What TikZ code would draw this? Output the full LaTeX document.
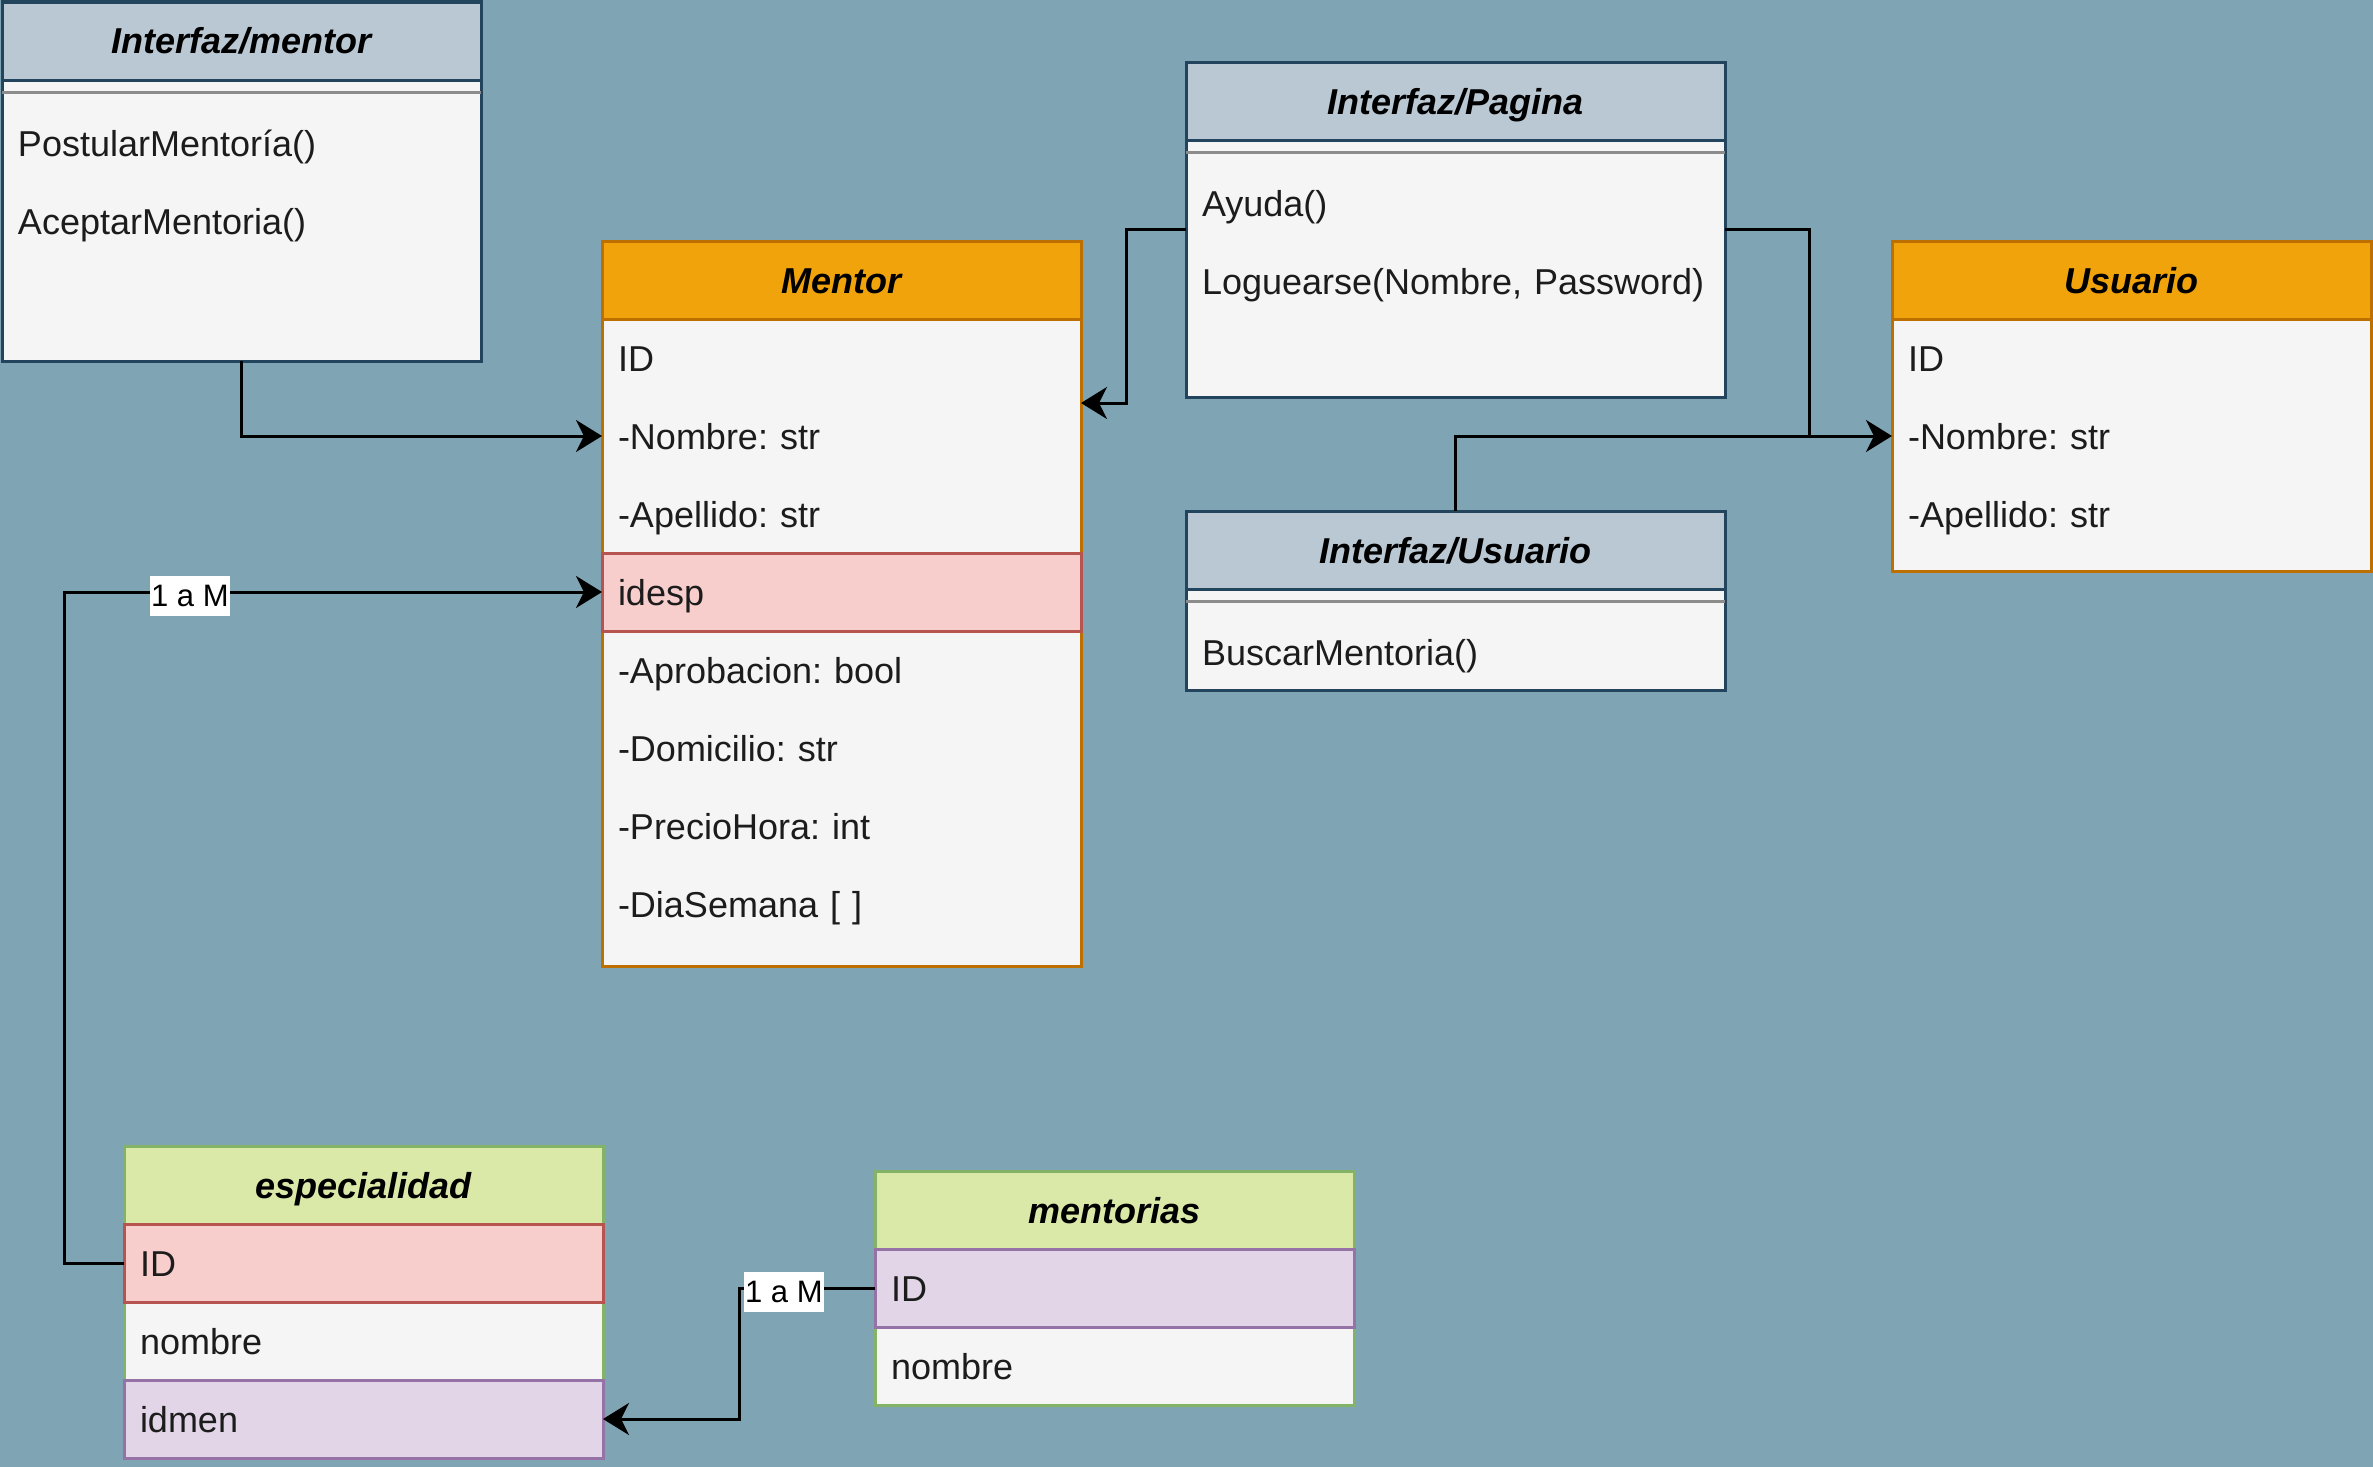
\documentclass[tikz,border=0pt]{standalone}
\usepackage{fontspec}
\setmainfont{Liberation Sans}
\usetikzlibrary{positioning,calc,arrows.meta}
\frenchspacing

\definecolor{bgblue}{HTML}{7FA4B3}
\definecolor{ifhead}{HTML}{BAC8D3}
\definecolor{ifline}{HTML}{23445D}
\definecolor{bodygray}{HTML}{F5F5F5}
\definecolor{sepgray}{HTML}{8C8C8C}
\definecolor{orhead}{HTML}{F0A30A}
\definecolor{orline}{HTML}{BD7000}
\definecolor{keyred}{HTML}{F8CECC}
\definecolor{keyredline}{HTML}{B85450}
\definecolor{grhead}{HTML}{DAE8A8}
\definecolor{grline}{HTML}{82B366}
\definecolor{keypur}{HTML}{E1D5E7}
\definecolor{keypurline}{HTML}{9673A6}
\definecolor{txtgray}{HTML}{1C1C1C}

\begin{document}
\begin{tikzpicture}[
    x=0.5pt, y=-0.5pt,
    box/.style={draw=#1, fill=bodygray, line width=1.5pt, outer sep=0pt, inner sep=0pt, anchor=north west},
    hdr/.style={minimum width=#1, minimum height=39pt, line width=1.5pt, outer sep=0pt, inner sep=0pt,
      text height=17pt, text depth=4pt, anchor=north, font=\fontsize{18}{22}\selectfont\bfseries\itshape},
    row_txt/.style={text width=#1, align=left, inner xsep=8pt, inner ysep=0pt, minimum height=39pt,
      text height=17pt, text depth=4pt, outer sep=0pt, text=txtgray, font=\fontsize{18}{22}\selectfont},
    row_red/.style={fill=keyred, draw=keyredline, line width=1.5pt},
    row_pur/.style={fill=keypur, draw=keypurline, line width=1.5pt},
    sep_line/.style={draw=sepgray, line width=1.5pt},
    conn/.style={draw=black, line width=1.5pt, -{Stealth[length=13pt, width=16pt, inset=4pt]}},
    lbl/.style={fill=white, inner xsep=0.75pt, inner ysep=0pt, minimum height=20pt, yshift=-2pt,
      font=\fontsize{15.5}{19}\selectfont}
  ]
  \useasboundingbox (0,0) rectangle (2373,1467);
  \fill[bgblue] (0,0) rectangle (2373,1467);

  % interfaces
  \node[box=ifline, minimum width=239.5pt, minimum height=179.5pt] (ment) at (2,2) {};
  \node[hdr=239.5pt, fill=ifhead, draw=ifline] (ment_hdr) at (ment.north) {Interfaz/mentor};
  \draw[sep_line] ($(ment_hdr.south west)+(0,12)$) -- ($(ment_hdr.south east)+(0,12)$);
  \node[row_txt=223.5pt, anchor=north west] (ment_m1) at ($(ment_hdr.south west)+(0,24)$) {PostularMentoría()};
  \node[row_txt=223.5pt, below=0pt of ment_m1] (ment_m2) {AceptarMentoria()};

  \node[box=ifline, minimum width=269.5pt, minimum height=167.5pt] (pag) at (1186,62) {};
  \node[hdr=269.5pt, fill=ifhead, draw=ifline] (pag_hdr) at (pag.north) {Interfaz/Pagina};
  \draw[sep_line] ($(pag_hdr.south west)+(0,12)$) -- ($(pag_hdr.south east)+(0,12)$);
  \node[row_txt=253.5pt, anchor=north west] (pag_m1) at ($(pag_hdr.south west)+(0,24)$) {Ayuda()};
  \node[row_txt=253.5pt, below=0pt of pag_m1] (pag_m2) {Loguearse(Nombre, Password)};

  \node[box=ifline, minimum width=269.5pt, minimum height=89.5pt] (ifusu) at (1186,511) {};
  \node[hdr=269.5pt, fill=ifhead, draw=ifline] (ifusu_hdr) at (ifusu.north) {Interfaz/Usuario};
  \draw[sep_line] ($(ifusu_hdr.south west)+(0,12)$) -- ($(ifusu_hdr.south east)+(0,12)$);
  \node[row_txt=253.5pt, anchor=north west] (ifusu_m1) at ($(ifusu_hdr.south west)+(0,24)$) {BuscarMentoria()};

  % Mentor
  \node[box=orline, minimum width=239.5pt, minimum height=362.5pt] (mentor) at (602,241) {};
  \node[hdr=239.5pt, fill=orhead, draw=orline] (mentor_hdr) at (mentor.north) {Mentor};
  \node[row_txt=223.5pt, below=0pt of mentor_hdr] (m_id) {ID};
  \node[row_txt=223.5pt, below=0pt of m_id] (m_nombre) {-Nombre: str};
  \node[row_txt=223.5pt, below=0pt of m_nombre] (m_apellido) {-Apellido: str};
  \node[row_txt=223.5pt, row_red, below=0pt of m_apellido] (m_idesp) {idesp};
  \node[row_txt=223.5pt, below=0pt of m_idesp] (m_aprob) {-Aprobacion: bool};
  \node[row_txt=223.5pt, below=0pt of m_aprob] (m_domicilio) {-Domicilio: str};
  \node[row_txt=223.5pt, below=0pt of m_domicilio] (m_precio) {-PrecioHora: int};
  \node[row_txt=223.5pt, below=0pt of m_precio] (m_dia) {-DiaSemana [ ]};

  % Usuario
  \node[box=orline, minimum width=239.5pt, minimum height=165pt] (usuario) at (1892,241) {};
  \node[hdr=239.5pt, fill=orhead, draw=orline] (usuario_hdr) at (usuario.north) {Usuario};
  \node[row_txt=223.5pt, below=0pt of usuario_hdr] (u_id) {ID};
  \node[row_txt=223.5pt, below=0pt of u_id] (u_nombre) {-Nombre: str};
  \node[row_txt=223.5pt, below=0pt of u_nombre] (u_apellido) {-Apellido: str};

  % especialidad
  \node[box=grline, minimum width=239.5pt, minimum height=156pt] (espec) at (124,1146) {};
  \node[hdr=239.5pt, fill=grhead, draw=grline] (espec_hdr) at (espec.north) {especialidad};
  \node[row_txt=223.5pt, row_red, below=0pt of espec_hdr] (e_id) {ID};
  \node[row_txt=223.5pt, below=0pt of e_id] (e_nombre) {nombre};
  \node[row_txt=223.5pt, row_pur, below=0pt of e_nombre] (e_idmen) {idmen};

  % mentorias
  \node[box=grline, minimum width=239.5pt, minimum height=117pt] (mentorias) at (875,1171) {};
  \node[hdr=239.5pt, fill=grhead, draw=grline] (mentorias_hdr) at (mentorias.north) {mentorias};
  \node[row_txt=223.5pt, row_pur, below=0pt of mentorias_hdr] (t_id) {ID};
  \node[row_txt=223.5pt, below=0pt of t_id] (t_nombre) {nombre};

  % connectors
  \coordinate (mentor_in) at ($(mentor.north east)+(0,162)$);
  \coordinate (usu_join) at ($(u_nombre.west)+(-83,0)$);
  \draw[conn] (ment.south) |- (m_nombre.west);
  \draw[conn] (pag.west) -| ($(mentor_in)+(45,0)$) -- (mentor_in);
  \draw[conn] (pag.east) -| (usu_join) -- (u_nombre.west);
  \draw[line width=1.5pt] (ifusu.north) |- (usu_join);
  \draw[conn] (e_id.west) -- ++(-60,0) |- node[lbl, pos=0.617] (lbl_esp) {1 a M} (m_idesp.west);
  \draw[conn] (t_id.west) -| node[lbl, pos=0.335] (lbl_men) {1 a M} ($(e_idmen.east)+(136,0)$) -- (e_idmen.east);
\end{tikzpicture}
\end{document}
